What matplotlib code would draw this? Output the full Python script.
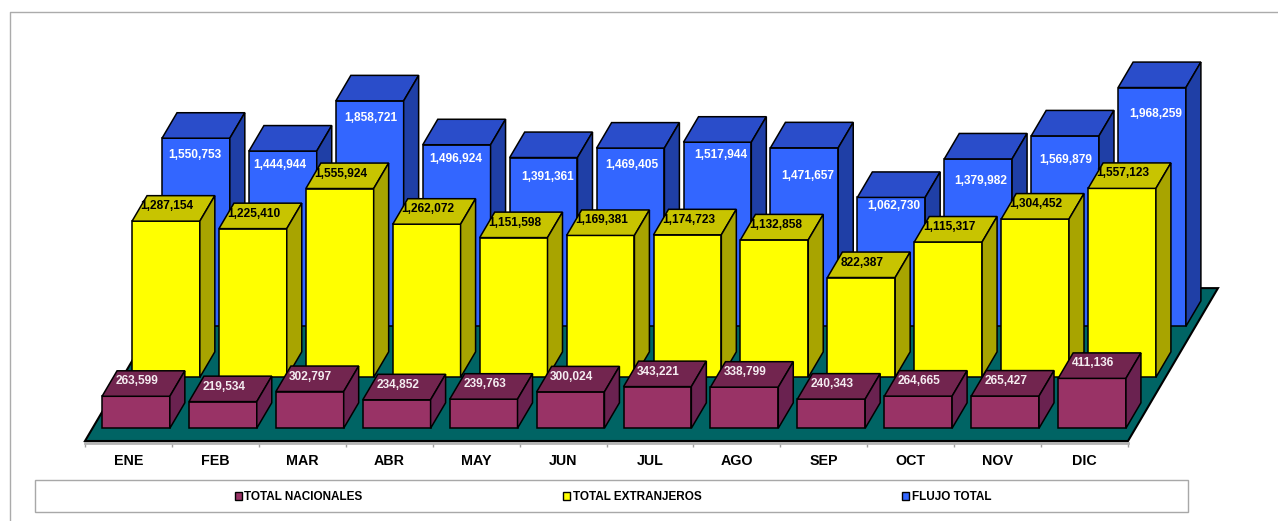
import matplotlib
matplotlib.use("Agg")
import numpy as np
import matplotlib.pyplot as plt
from matplotlib.lines import Line2D
from matplotlib.patches import Patch, Polygon, Rectangle

MONTHS = ['ENE', 'FEB', 'MAR', 'ABR', 'MAY', 'JUN', 'JUL', 'AGO', 'SEP', 'OCT', 'NOV', 'DIC']
NACIONALES = [263599, 219534, 302797, 234852, 239763, 300024, 343221, 338799, 240343, 264665, 265427, 411136]
EXTRANJEROS = [1287154, 1225410, 1555924, 1262072, 1151598, 1169381, 1174723, 1132858, 822387, 1115317, 1304452, 1557123]
FLUJO = [1550753, 1444944, 1858721, 1496924, 1391361, 1469405, 1517944, 1471657, 1062730, 1379982, 1569879, 1968259]
SERIES_NAMES = ['TOTAL NACIONALES', 'TOTAL EXTRANJEROS', 'FLUJO TOTAL']

# blue labels were dragged around by hand in the original: pixels right of centre, pixels under the top edge
FLUJO_LABEL_SHIFT = [-1, -3, 1, -1, 4, 1, 3, 3, 3, 3, 1, 4]
FLUJO_LABEL_DROP = [17, 14, 17, 14, 19, 17, 13, 28, 9, 22, 24, 26]

# oblique projection: one row of depth moves this much in x (months) and y (passengers)
DEPTH_X = 0.345
DEPTH_Y = 420000
BAR_WIDTH = 0.78
BOX_DEPTH = 0.5
Y_TOP = 3635000

W, H = 1278, 521
plt.rcParams['font.family'] = ['Liberation Sans', 'DejaVu Sans']
plt.rcParams['font.weight'] = 'bold'


def draw_series(ax, values, row, colors, zorder, text_color, shifts=None, drops=None, clip_text=False):
    """One row of boxes: front faces with ax.bar, top and side as polygons."""
    front, top, side = colors
    d0 = row + (1 - BOX_DEPTH) / 2
    base = d0 * DEPTH_Y
    dx = BOX_DEPTH * DEPTH_X
    dy = BOX_DEPTH * DEPTH_Y
    lefts = np.arange(len(values)) + 0.5 - BAR_WIDTH / 2 + d0 * DEPTH_X

    ax.bar(lefts, values, BAR_WIDTH, bottom=base, align='edge', color=front,
           edgecolor='black', linewidth=1.1, zorder=zorder, clip_on=False)

    for i, v in enumerate(values):
        left = lefts[i]
        right = left + BAR_WIDTH
        y = base + v
        top_face = Polygon([(left, y), (right, y), (right + dx, y + dy), (left + dx, y + dy)],
                           facecolor=top, edgecolor='black', linewidth=1.1, zorder=zorder, clip_on=False)
        ax.add_patch(top_face)
        ax.add_patch(Polygon([(right, base), (right + dx, base + dy), (right + dx, y + dy), (right, y)],
                             facecolor=side, edgecolor='black', linewidth=1.1, zorder=zorder, clip_on=False))
        if drops is None:
            offset = (1, 15)
        else:
            offset = (shifts[i], -drops[i])
        label = ax.annotate(f'{v:,}', (left + BAR_WIDTH / 2, y), xytext=offset, textcoords='offset pixels',
                            ha='center', va='center', fontsize=8.6, color=text_color,
                            zorder=zorder + 0.5, annotation_clip=False)
        if clip_text:
            # the leading 1 gets cut off at the edge of the top face
            label.set_clip_on(True)
            label.set_clip_path(top_face)


def main():
    fig = plt.figure(figsize=(W / 100, H / 100), dpi=100, facecolor='white')

    # chart frame, only top and left show up in the picture
    fig.add_artist(Line2D([9.5 / W, 9.5 / W, 1], [1 - 520 / H, 1 - 12 / H, 1 - 12 / H],
                          color='#ababab', linewidth=1))

    ax = fig.add_axes([85 / W, (H - 441) / H, (1128 - 85) / W, 441 / H])
    ax.patch.set_alpha(0)
    ax.set_xlim(0, len(MONTHS))
    ax.set_ylim(0, Y_TOP)

    for name in ['top', 'left', 'right']:
        ax.spines[name].set_visible(False)
    ax.spines['bottom'].set_color('#b4b4b4')
    ax.spines['bottom'].set_linewidth(2)
    ax.spines['bottom'].set_position(('outward', 1.6))
    ax.set_yticks([])
    ax.set_xticks(np.arange(len(MONTHS)) + 0.5, MONTHS)
    ax.set_xticks(np.arange(len(MONTHS) + 1), minor=True)
    ax.tick_params(axis='x', which='major', length=0, pad=8, labelsize=10.3)
    ax.tick_params(axis='x', which='minor', length=3, width=1, color='#a0a0a0')

    # floor
    n = len(MONTHS)
    ax.add_patch(Polygon([(0, 0), (n, 0), (n + 3 * DEPTH_X, 3 * DEPTH_Y), (3 * DEPTH_X, 3 * DEPTH_Y)],
                         facecolor='#006464', edgecolor='black', linewidth=1.5, zorder=3, clip_on=False))

    draw_series(ax, FLUJO, 2, ('#3366ff', '#2a4dca', '#1f3fa6'), 4, '#ffffff',
                FLUJO_LABEL_SHIFT, FLUJO_LABEL_DROP)
    draw_series(ax, EXTRANJEROS, 1, ('#ffff00', '#c8c400', '#a8a400'), 5, 'black', clip_text=True)
    draw_series(ax, NACIONALES, 0, ('#993366', '#72254f', '#6a2250'), 6, '#f4ecf0')

    # legend box
    fig.add_artist(Rectangle((35 / W, 1 - 512 / H), (1188 - 35) / W, 32 / H, transform=fig.transFigure,
                             facecolor='white', edgecolor='#a8a8a8', linewidth=1))
    handles = [Patch(facecolor=c, edgecolor='black', linewidth=1) for c in ['#993366', '#ffff00', '#3366ff']]
    fig.legend(handles, SERIES_NAMES, loc='center', bbox_to_anchor=(613 / W, 1 - 497 / H), ncol=3,
               frameon=False, fontsize=8.5, columnspacing=17.0, handlelength=0.6, handleheight=0.6,
               handletextpad=0.2, borderpad=0)

    fig.savefig('out.png', dpi=100)


if __name__ == "__main__":
    main()
